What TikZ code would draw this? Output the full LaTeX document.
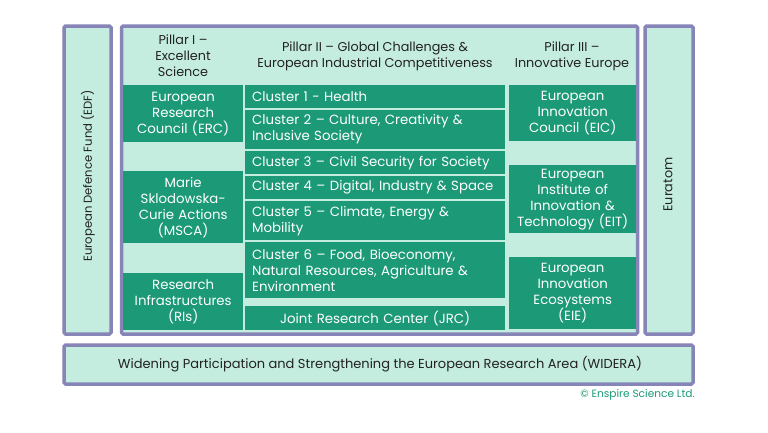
\documentclass[tikz,border=0pt]{standalone}
\usepackage{fontspec}
\setmainfont{Poppins}
\definecolor{pborder}{HTML}{8784B8}
\definecolor{mint}{HTML}{C4EDDF}
\definecolor{gfill}{HTML}{1C9A77}
\definecolor{htext}{HTML}{222222}
\tikzset{
  frame/.style={draw=pborder, line width=3.5pt, fill=mint, rounded corners=1.5pt},
  gbox/.style={fill=gfill, text=white, inner ysep=0pt, inner xsep=7pt, anchor=north west,
    font=\fontsize{13.3}{16}\selectfont, align=center},
  cbox/.style={gbox, align=left},
  head/.style={text=htext, font=\fontsize{12.8}{16}\selectfont, align=center, inner sep=0pt},
}
\newcommand{\gb}[7]{% style, name, x, y, w, h, text
  \node[#1, text width=#5pt-14pt, minimum height=#6pt] (#2) at (#3,#4) {#7};}
\begin{document}
\begin{tikzpicture}[x=1pt,y=-1pt]
\useasboundingbox[fill=white] (0,0) rectangle (768,432);
% frames
\draw[frame] (64,26) rectangle (111,334);
\draw[frame] (121.5,26) rectangle (637.5,334);
\draw[frame] (645,26) rectangle (693,334);
\draw[frame] (64,345) rectangle (693,384);
% headers
\node[head] (p1) at (183,56) {Pillar I –\\Excellent\\Science};
\node[head] (p2) at (375,56) {Pillar II – Global Challenges \&\\European Industrial Competitiveness};
\node[head] (p3) at (572,56) {Pillar III –\\Innovative Europe};
% side labels
\node[head, rotate=90, font=\fontsize{11.6}{14}\selectfont] (edf) at (88,176) {European Defence Fund (EDF)};
\node[head, rotate=90] (eur) at (668,184.5) {Euratom};
\node[head, font=\fontsize{13}{16}\selectfont] (wid) at (380,364.5) {Widening Participation and Strengthening the European Research Area (WIDERA)};
\node[text=gfill, font=\fontsize{10.6}{12}\selectfont, anchor=east, inner sep=0pt] (copy) at (695,395) {© Enspire Science Ltd.};
% Pillar I
\gb{gbox}{erc}{123}{85}{120}{57}{European\\Research\\Council (ERC)}
\gb{gbox}{msca}{123}{171}{120}{72}{Marie\\Sklodowska-\\Curie Actions\\(MSCA)}
\gb{gbox}{ris}{123}{273}{120}{57}{Research\\Infrastructures\\(RIs)}
% Pillar II
\gb{cbox}{c1}{245}{85}{260}{22.5}{Cluster 1 - Health}
\gb{cbox}{c2}{245}{109.5}{260}{39.5}{Cluster 2 – Culture, Creativity \&\\Inclusive Society}
\gb{cbox}{c3}{245}{151}{260}{23}{Cluster 3 – Civil Security for Society}
\gb{cbox}{c4}{245}{176}{260}{23}{Cluster 4 – Digital, Industry \& Space}
\gb{cbox}{c5}{245}{201}{260}{39}{Cluster 5 – Climate, Energy \&\\Mobility}
\gb{cbox}{c6}{245}{242}{260}{56}{Cluster 6 – Food, Bioeconomy,\\Natural Resources, Agriculture \&\\Environment}
\gb{gbox}{jrc}{245}{306}{260}{24}{Joint Research Center (JRC)}
% Pillar III
\gb{gbox}{eic}{509}{85}{127}{56}{European\\Innovation\\Council (EIC)}
\gb{gbox}{eit}{509}{165}{127}{68}{European\\Institute of\\Innovation \&\\Technology (EIT)}
\gb{gbox}{eie}{509}{257}{127}{72}{European\\Innovation\\Ecosystems\\(EIE)}
\end{tikzpicture}
\end{document}
